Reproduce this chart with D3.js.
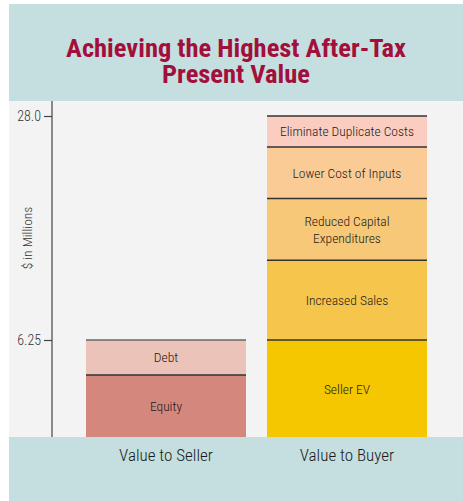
<!DOCTYPE html>
<html>
<head>
<meta charset="utf-8">
<script src="https://cdn.jsdelivr.net/npm/d3@7"></script>
<style>
  body { margin: 0; background: #fff; }
  text { font-family: Roboto, sans-serif; font-stretch: condensed; font-weight: 350; }
</style>
</head>
<body>
<div id="chart"></div>
<script>
// data
const categories = ["Value to Seller", "Value to Buyer"];
const sellerParts = ["Equity", "Debt"];
const sellerValues = [4.0, 2.25];
const buyerParts = ["Seller EV", "Increased Sales", "Reduced Capital\nExpenditures", "Lower Cost of Inputs", "Eliminate Duplicate Costs"];
const buyerValues = [6.25, 7.75, 6.0, 5.0, 3.0];
const tickValues = [6.25, 28.0];
const tickLabels = ["6.25", "28.0"];

const sellerColors = ["#d4877c", "#ecc3b9"];
const buyerColors = ["#f5c700", "#f5c64b", "#f7c877", "#facb95", "#fbcdc0"];

const width = 463, height = 501;
const panel = {left: 9, top: 4, right: 463, bottom: 501};
const plot = {top: 101, bottom: 437};

const svg = d3.select("#chart")
    .append("svg")
        .attr("width", width)
        .attr("height", height);

// background bands
svg.append("rect")
    .attr("x", panel.left).attr("y", panel.top)
    .attr("width", panel.right - panel.left).attr("height", panel.bottom - panel.top)
    .attr("fill", "#c5dfe0");
svg.append("rect")
    .attr("x", panel.left).attr("y", plot.top)
    .attr("width", panel.right - panel.left).attr("height", plot.bottom - plot.top)
    .attr("fill", "#f3f3f3");

// title
const title = svg.append("text")
    .attr("text-anchor", "middle")
    .attr("fill", "#a30f3b")
    .style("font-weight", "bold")
    .style("font-size", "26.5px");
title.append("tspan").attr("x", 236).attr("y", 57).text("Achieving the Highest After-Tax");
title.append("tspan").attr("x", 236).attr("y", 83).text("Present Value");

// scales (axis is not to scale in the original, so piecewise)
const y = d3.scaleLinear()
    .domain([0, 6.25, 28])
    .range([plot.bottom, 340, 116]);

const x = d3.scaleBand()
    .domain(categories)
    .range([86, 427])
    .paddingInner(0.116)
    .paddingOuter(0);

// stacks
function stack(names, values, colors) {
    let acc = 0;
    return values.map((v, i) => {
        const d = {name: names[i], y0: acc, y1: acc + v, color: colors[i]};
        acc += v;
        return d;
    });
}
const stacks = [
    {cat: categories[0], parts: stack(sellerParts, sellerValues, sellerColors), topLine: "#666"},
    {cat: categories[1], parts: stack(buyerParts, buyerValues, buyerColors), topLine: "#333"}
];

const groups = svg.selectAll("g.bar")
    .data(stacks)
    .join("g")
        .attr("class", "bar")
        .attr("transform", d => `translate(${x(d.cat)},0)`);

groups.selectAll("rect")
    .data(d => d.parts)
    .join("rect")
        .attr("x", 0)
        .attr("y", d => y(d.y1))
        .attr("width", x.bandwidth())
        .attr("height", d => y(d.y0) - y(d.y1))
        .attr("fill", d => d.color);

// separator lines on top of each segment
groups.selectAll("line")
    .data(d => d.parts.map((p, i) => ({v: p.y1, c: i == d.parts.length - 1 ? d.topLine : "#333"})))
    .join("line")
        .attr("x1", 0)
        .attr("x2", x.bandwidth())
        .attr("y1", d => y(d.v))
        .attr("y2", d => y(d.v))
        .attr("stroke", d => d.c)
        .attr("stroke-width", 1.5);

// segment labels
groups.selectAll("text")
    .data(d => d.parts)
    .join("text")
        .attr("text-anchor", "middle")
        .attr("fill", "#1a1a1a")
        .style("font-size", "13.5px")
        .each(function(d) {
            const lines = d.name.split("\n");
            const mid = (y(d.y0) + y(d.y1)) / 2;
            const t = d3.select(this);
            lines.forEach((l, i) => {
                t.append("tspan")
                    .attr("x", x.bandwidth() / 2)
                    .attr("y", mid + 5 + (i - (lines.length - 1) / 2) * 17)
                    .text(l);
            });
        });

// y axis
svg.append("line")
    .attr("x1", 52).attr("x2", 52)
    .attr("y1", plot.top).attr("y2", plot.bottom)
    .attr("stroke", "#444")
    .attr("stroke-width", 1.2);

const yAxis = svg.append("g")
    .attr("transform", "translate(52,0)")
    .call(d3.axisLeft(y)
        .tickValues(tickValues)
        .tickFormat((d, i) => tickLabels[i])
        .tickSize(8)
        .tickPadding(3));
yAxis.select(".domain").remove();
yAxis.selectAll("line").attr("stroke", "#444").attr("stroke-width", 1.2);
yAxis.selectAll("text")
    .attr("fill", "#333")
    .style("font-size", "14px")
    .style("font-family", "Roboto, sans-serif");

svg.append("text")
    .attr("transform", "translate(32,238) rotate(-90)")
    .attr("text-anchor", "middle")
    .attr("fill", "#333")
    .style("font-size", "13.5px")
    .text("$ in Millions");

// category labels
svg.selectAll("text.cat")
    .data(categories)
    .join("text")
        .attr("class", "cat")
        .attr("x", d => x(d) + x.bandwidth() / 2)
        .attr("y", 461)
        .attr("text-anchor", "middle")
        .attr("fill", "#1a1a1a")
        .style("font-size", "17px")
        .text(d => d);
</script>
</body>
</html>
